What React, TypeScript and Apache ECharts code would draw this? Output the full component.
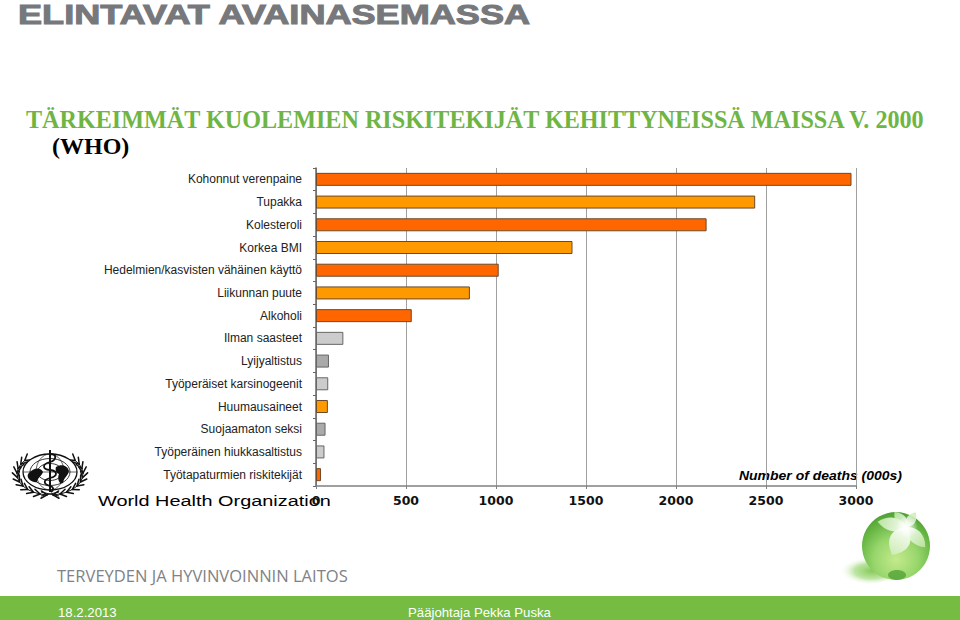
import React, { useEffect, useRef } from "react";
import * as echarts from "echarts";

const categories = [
  "Kohonnut verenpaine",
  "Tupakka",
  "Kolesteroli",
  "Korkea BMI",
  "Hedelmien/kasvisten vähäinen käyttö",
  "Liikunnan puute",
  "Alkoholi",
  "Ilman saasteet",
  "Lyijyaltistus",
  "Työperäiset karsinogeenit",
  "Huumausaineet",
  "Suojaamaton seksi",
  "Työperäinen hiukkasaltistus",
  "Työtapaturmien riskitekijät",
];
const deaths = [2975, 2440, 2170, 1425, 1015, 855, 532, 152, 72, 68, 66, 53, 47, 28];
const barColors = [
  "#ff6600", "#ff9900", "#ff6600", "#ff9900", "#ff6600", "#ff9900", "#ff6600",
  "#cccccc", "#aaaaaa", "#cccccc", "#ff9900", "#aaaaaa", "#cccccc", "#ff6600",
];
const barBorders = [
  "#6b4a2c", "#6b4a2c", "#6b4a2c", "#6b4a2c", "#6b4a2c", "#6b4a2c", "#6b4a2c",
  "#666666", "#666666", "#666666", "#6b4a2c", "#666666", "#666666", "#6b4a2c",
];

const SANS = "'Liberation Sans', Arial, sans-serif";
const SERIF = "'Liberation Serif', 'Times New Roman', serif";

const petal = "M0 0 C-9 -6 -12 -16 0 -26 C12 -16 9 -6 0 0 Z";
const snake = "M0 -18 C7 -18 7 -12 0 -10 C-8 -8 -8 -3 0 -2 C8 -1 8 4 0 6 C-7 8 -7 12 0 14 C4 15 4 18 1 20";
const landA = "M-18 -1 C-12 -8 -5 -8 -3 -3 C-5 2 -8 2 -9 7 C-13 8 -20 4 -18 -1 Z";
const landB = "M4 -6 C10 -10 16 -7 17 -2 C16 3 12 4 11 10 C7 12 5 5 7 1 C4 0 3 -3 4 -6 Z";

echarts.graphic.registerShape("petalShape", echarts.graphic.extendPath(petal, {}));
echarts.graphic.registerShape("snakeShape", echarts.graphic.extendPath(snake, {}));
echarts.graphic.registerShape("landA", echarts.graphic.extendPath(landA, {}));
echarts.graphic.registerShape("landB", echarts.graphic.extendPath(landB, {}));

const deg = (d: number) => (d * Math.PI) / 180;

const App = () => {
  const ref = useRef<HTMLDivElement>(null);

  useEffect(() => {
    if (!ref.current) return;
    const chart = echarts.init(ref.current, undefined, { renderer: "svg" });

    const cx = 50;
    const cy = 472;
    const wreath: any[] = [];
    for (const side of [-1, 1]) {
      const stem: number[][] = [];
      for (let t = 85; t >= -40; t -= 12.5) {
        const a = deg(t);
        const x = cx + side * 33 * Math.cos(a);
        const y = cy + 2 + 21 * Math.sin(a);
        stem.push([x, y]);
        const tx = side * 33 * Math.sin(a);
        const ty = -21 * Math.cos(a);
        const len = Math.hypot(tx, ty) || 1;
        const ux = tx / len;
        const uy = ty / len;
        for (const spread of [-0.55, 0.55]) {
          const c = Math.cos(spread);
          const s = Math.sin(spread);
          wreath.push({
            type: "line",
            shape: {
              x1: x,
              y1: y,
              x2: x + 7 * (ux * c - uy * s),
              y2: y + 7 * (ux * s + uy * c),
            },
            style: { stroke: "#111", lineWidth: 1.5, lineCap: "round" },
          });
        }
      }
      wreath.push({ type: "polyline", shape: { points: stem }, style: { stroke: "#111", lineWidth: 1, fill: "none" } });
    }

    const emblem = [
      { type: "ellipse", shape: { cx, cy, rx: 27, ry: 18 }, style: { fill: "#fff", stroke: "#111", lineWidth: 1.3 } },
      { type: "ellipse", shape: { cx, cy, rx: 20, ry: 13.5 }, style: { fill: "none", stroke: "#222", lineWidth: 0.9 } },
      { type: "ellipse", shape: { cx, cy, rx: 12.5, ry: 8.5 }, style: { fill: "none", stroke: "#222", lineWidth: 0.9 } },
      { type: "ellipse", shape: { cx, cy, rx: 14, ry: 18 }, style: { fill: "none", stroke: "#222", lineWidth: 0.7 } },
      { type: "line", shape: { x1: cx - 27, y1: cy, x2: cx + 27, y2: cy }, style: { stroke: "#222", lineWidth: 0.7 } },
      { type: "landA", x: cx - 4, y: cy + 3, style: { fill: "#111" } },
      { type: "landB", x: cx + 2, y: cy + 1, style: { fill: "#111" } },
      { type: "line", shape: { x1: cx, y1: cy - 22, x2: cx, y2: cy + 20 }, style: { stroke: "#111", lineWidth: 2 } },
      { type: "snakeShape", x: cx, y: cy, style: { fill: "none", stroke: "#111", lineWidth: 1.8 } },
      { type: "line", shape: { x1: cx - 9, y1: cy + 24, x2: cx + 9, y2: cy + 20 }, style: { stroke: "#111", lineWidth: 1 } },
      { type: "line", shape: { x1: cx + 9, y1: cy + 24, x2: cx - 9, y2: cy + 20 }, style: { stroke: "#111", lineWidth: 1 } },
    ];

    const px = 907;
    const py = 527;
    const petalFill = (c1: string) =>
      new echarts.graphic.LinearGradient(0, 0, 0, 1, [
        { offset: 0, color: c1 },
        { offset: 1, color: "#ffffff" },
      ]);
    const sphere = [
      {
        type: "ellipse",
        shape: { cx: 866, cy: 571, rx: 29, ry: 13 },
        style: {
          fill: new echarts.graphic.RadialGradient(0.6, 0.5, 0.55, [
            { offset: 0, color: "#86cb5a" },
            { offset: 0.55, color: "#bfe5a5" },
            { offset: 1, color: "rgba(255,255,255,0)" },
          ]),
        },
      },
      {
        type: "circle",
        shape: { cx: 896, cy: 546, r: 34 },
        style: {
          fill: new echarts.graphic.RadialGradient(0.5, 0.7, 0.72, [
            { offset: 0, color: "#c4ea8c" },
            { offset: 0.45, color: "#98d66c" },
            { offset: 0.8, color: "#62b340" },
            { offset: 1, color: "#4c9c34" },
          ]),
        },
      },
      { type: "ellipse", shape: { cx: 897, cy: 575, rx: 9, ry: 5 }, style: { fill: "#479a30", opacity: 0.7 } },
      { type: "petalShape", x: px, y: py, rotation: deg(80), scaleX: 0.85, scaleY: 1.15, style: { fill: petalFill("#bfe6a4"), opacity: 0.95 } },
      { type: "petalShape", x: px, y: py, rotation: deg(152), scaleX: 1.3, scaleY: 1.22, style: { fill: petalFill("#cdecb6"), opacity: 0.97 } },
      { type: "petalShape", x: px, y: py, rotation: deg(-138), scaleX: 0.8, scaleY: 1.05, style: { fill: petalFill("#bde5a1"), opacity: 0.9 } },
      { type: "petalShape", x: px, y: py, rotation: deg(-30), scaleX: 0.6, scaleY: 0.65, style: { fill: petalFill("#c5e9ab"), opacity: 0.85 } },
      { type: "petalShape", x: px, y: py, rotation: deg(40), scaleX: 0.65, scaleY: 0.75, style: { fill: petalFill("#c5e9ab"), opacity: 0.85 } },
      {
        type: "circle",
        shape: { cx: px, cy: py, r: 11 },
        style: {
          fill: new echarts.graphic.RadialGradient(0.5, 0.5, 0.5, [
            { offset: 0, color: "#ffffff" },
            { offset: 1, color: "rgba(255,255,255,0)" },
          ]),
        },
      },
    ];

    const mid = "middle";
    const texts = [
      { type: "text", x: 18, y: 14, scaleX: 1.29, style: { text: "ELINTAVAT AVAINASEMASSA", font: `bold 28px ${SANS}`, fill: "#77787b", stroke: "#77787b", lineWidth: 1, verticalAlign: mid } },
      { type: "text", x: 26, y: 119, style: { text: "TÄRKEIMMÄT KUOLEMIEN RISKITEKIJÄT KEHITTYNEISSÄ MAISSA V. 2000", font: `bold 24.15px ${SERIF}`, fill: "#6fb544", verticalAlign: mid } },
      { type: "text", x: 52, y: 146, style: { text: "(WHO)", font: `bold 24px ${SERIF}`, fill: "#000", verticalAlign: mid } },
      { type: "text", x: 98, y: 501, scaleX: 1.326, style: { text: "World Health Organization", font: `15px ${SANS}`, fill: "#000", verticalAlign: mid } },
      { type: "text", x: 739, y: 476, scaleX: 1.165, style: { text: "Number of deaths (000s)", font: `italic bold 12px ${SANS}`, fill: "#000", verticalAlign: mid } },
      { type: "text", x: 57, y: 576, scaleX: 1.035, style: { text: "TERVEYDEN JA HYVINVOINNIN LAITOS", font: "16px 'Open Sans', sans-serif", fill: "#808285", verticalAlign: mid } },
      { type: "rect", shape: { x: 0, y: 596, width: 960, height: 24 }, style: { fill: "#76bc43" } },
      { type: "text", x: 58, y: 612, style: { text: "18.2.2013", font: `13.2px ${SANS}`, fill: "#fff", verticalAlign: mid } },
      { type: "text", x: 408, y: 612, style: { text: "Pääjohtaja Pekka Puska", font: `13.2px ${SANS}`, fill: "#fff", verticalAlign: mid } },
    ];

    chart.setOption({
      animation: false,
      backgroundColor: "#ffffff",
      grid: { left: 316, right: 104, top: 168, bottom: 134 },
      xAxis: {
        type: "value",
        min: 0,
        max: 3000,
        interval: 500,
        axisLine: { show: true, lineStyle: { color: "#808080", width: 1.5 } },
        axisTick: { show: true, length: 3, lineStyle: { color: "#808080" } },
        axisLabel: {
          color: "#111",
          fontFamily: "'DejaVu Sans'",
          fontWeight: "bold",
          fontSize: 12.5,
          margin: 8,
          formatter: (v: number) => String(v),
        },
        splitLine: { show: true, lineStyle: { color: "#a0a0a0", width: 1 } },
      },
      yAxis: {
        type: "category",
        inverse: true,
        data: categories,
        axisLine: { show: true, lineStyle: { color: "#666", width: 1.5 } },
        axisTick: { show: true, length: 3, lineStyle: { color: "#666" } },
        axisLabel: { color: "#222", fontFamily: SANS, fontSize: 12, margin: 14, interval: 0, padding: [0, 0, 2, 0] },
        splitLine: { show: false },
      },
      series: [
        {
          type: "bar",
          barWidth: 13,
          data: deaths.map((v, i) => ({
            value: v,
            itemStyle: { color: barColors[i], borderColor: barBorders[i], borderWidth: 1 },
          })),
        },
      ],
      graphic: { elements: [...wreath, ...emblem, ...sphere, ...texts].map((e) => ({ silent: true, ...e })) },
    });

    return () => chart.dispose();
  }, []);

  return <div ref={ref} style={{ width: 960, height: 620, position: "absolute", left: 0, top: 0 }} />;
};

export default App;
